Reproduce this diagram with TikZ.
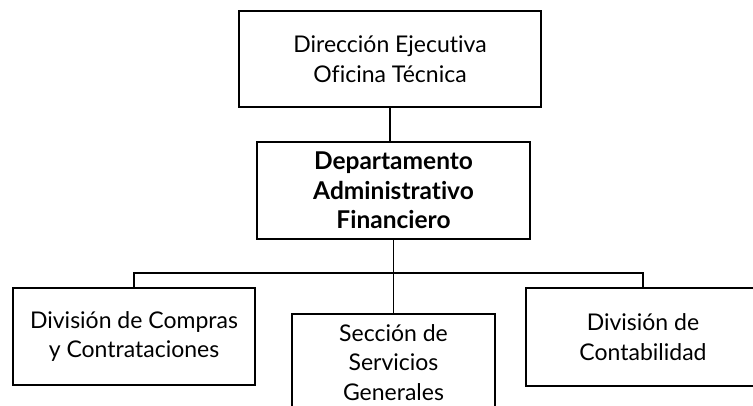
\documentclass[tikz,border=0pt]{standalone}
\usepackage{fontspec}
\setmainfont{Lato}[Ligatures=NoCommon]

\begin{document}
\begin{tikzpicture}[x=1pt,y=-1pt,
    unidad/.style ={rectangle, draw, line width=1.5pt, align=center, inner sep=0pt,
                    font=\fontsize{23}{29.5}\selectfont}]
   \clip (0,0) rectangle (753,405);
   \node[unidad, minimum width=302pt, minimum height=96pt] (D) at (390,59) {Dirección Ejecutiva\\Oficina Técnica};
   \node[unidad, minimum width=273pt, minimum height=97pt, font=\fontsize{24.5}{29.5}\selectfont\bfseries] (A) at (393.5,190.5) {Departamento\\Administrativo\\Financiero};
   \node[unidad, minimum width=242pt, minimum height=97pt] (C) at (134,336.5) {División de Compras\\y Contrataciones};
   \node[unidad, minimum width=203pt, minimum height=97pt] (S) at (393.5,362.5) {Sección de\\Servicios\\Generales};
   \node[unidad, minimum width=234pt, minimum height=98pt] (K) at (643,337) {División de\\Contabilidad};
   \coordinate (B) at (393.5,273);
   \draw[line width=1.5pt] (D.south) to (D.south |- A.north);
   \draw[line width=1.5pt] (A.south) to (S.north);
   \draw[line width=1.5pt] (C.north) |- (B) -| (K.north);
\end{tikzpicture}
\end{document}
